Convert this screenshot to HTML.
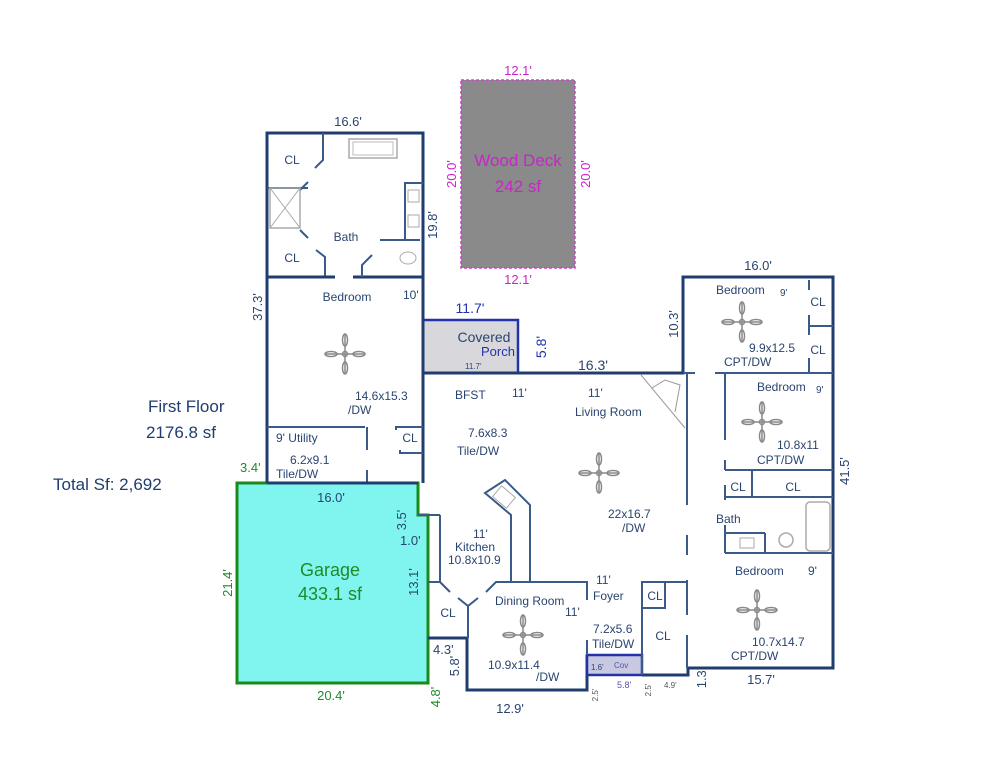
<!DOCTYPE html>
<html><head><style>
body{margin:0;background:#fff;}
svg{display:block;font-family:"Liberation Sans",sans-serif;}
.w{stroke:#1f3d6e;stroke-width:3;fill:none;}
.t{stroke:#3a5a8a;stroke-width:2;fill:none;}
.tx{fill:#2a4470;font-size:12px;}
.d{fill:#2a4470;font-size:13px;}
.g{fill:#1f8a2a;font-size:13px;}
.m{fill:#cc22cc;font-size:13px;}
.fan{stroke:#888;stroke-width:1.5;fill:none;}
</style></head><body>
<svg width="995" height="768" viewBox="0 0 995 768" xmlns="http://www.w3.org/2000/svg">
<defs>
<g id="fan"><line x1="-20" y1="0" x2="20" y2="0" class="fan"/><line x1="0" y1="-20" x2="0" y2="20" class="fan"/><circle r="2.5" class="fan"/><ellipse cx="-14" cy="0" rx="6" ry="2.5" class="fan"/><ellipse cx="14" cy="0" rx="6" ry="2.5" class="fan"/><ellipse cx="0" cy="-14" rx="2.5" ry="6" class="fan"/><ellipse cx="0" cy="14" rx="2.5" ry="6" class="fan"/></g>
</defs>
<!-- Wood deck -->
<rect x="461" y="80" width="114" height="188" fill="#8a8a8a" stroke="#d040d0" stroke-width="1.5" stroke-dasharray="3,2"/>
<text x="518" y="166" class="m" style="font-size:17px" text-anchor="middle">Wood Deck</text>
<text x="518" y="192" class="m" style="font-size:17px" text-anchor="middle">242 sf</text>
<text x="518" y="75" class="m" text-anchor="middle">12.1'</text>
<text x="518" y="284" class="m" text-anchor="middle">12.1'</text>
<text transform="translate(456,174) rotate(-90)" class="m" text-anchor="middle">20.0'</text>
<text transform="translate(590,174) rotate(-90)" class="m" text-anchor="middle">20.0'</text>

<!-- Garage -->
<polygon points="237,483 418,483 418,515 428,515 428,683 237,683" fill="#80f5ef" stroke="#1a8a1a" stroke-width="3"/>
<text x="330" y="576" style="fill:#1f8a2a;font-size:18px" text-anchor="middle">Garage</text>
<text x="330" y="600" style="fill:#1f8a2a;font-size:18px" text-anchor="middle">433.1 sf</text>
<text x="331" y="502" class="d" text-anchor="middle">16.0'</text>
<text x="331" y="700" class="g" text-anchor="middle">20.4'</text>
<text transform="translate(232,583) rotate(-90)" class="g" text-anchor="middle">21.4'</text>
<text transform="translate(406,520) rotate(-90)" class="d" text-anchor="middle">3.5'</text>
<text x="400" y="545" class="d">1.0'</text>
<text transform="translate(418,582) rotate(-90)" class="d" text-anchor="middle">13.1'</text>
<text transform="translate(440,697) rotate(-90)" class="g" text-anchor="middle">4.8'</text>
<text x="240" y="472" class="g">3.4'</text>

<!-- Covered porch -->
<rect x="423" y="320" width="95" height="53" fill="#d8d8dc" stroke="#2233aa" stroke-width="2.5"/>
<text x="484" y="342" class="tx" style="font-size:14px" text-anchor="middle">Covered</text>
<text x="498" y="356" style="fill:#2233aa;font-size:13px" text-anchor="middle">Porch</text>
<text x="465" y="369" class="tx" style="font-size:8px">11.7'</text>
<text x="470" y="313" style="fill:#2233aa;font-size:14px" text-anchor="middle">11.7'</text>
<text transform="translate(546,347) rotate(-90)" style="fill:#2233aa;font-size:14px" text-anchor="middle">5.8'</text>

<!-- Main outline -->
<polyline class="w" points="267,483 267,133 423,133 423,373 683,373 683,277 833,277 833,668 688,668 688,675 642,675"/>
<line class="w" x1="423" y1="373" x2="423" y2="483"/>
<line class="w" x1="428" y1="638" x2="467" y2="638"/>
<polyline class="w" points="467,638 467,690 587,690 587,655"/>
<rect x="587" y="655" width="55" height="20" fill="#c8c8e0" stroke="#2233aa" stroke-width="2.5"/>
<text x="591" y="670" class="tx" style="font-size:8px">1.6'</text>
<text x="614" y="668" style="fill:#5555aa;font-size:8px">Cov</text>

<!-- master bath interior -->
<polyline class="t" points="267,188 308,188"/>
<polyline class="t" points="323,133 323,160 315,168"/>
<line class="t" x1="300" y1="190" x2="308" y2="182"/>
<rect x="270" y="188" width="30" height="40" fill="none" stroke="#aaa" stroke-width="1.5"/>
<line x1="270" y1="188" x2="300" y2="228" stroke="#aaa"/><line x1="300" y1="188" x2="270" y2="228" stroke="#aaa"/>
<rect x="349" y="139" width="48" height="19" fill="none" stroke="#aaa" stroke-width="1.5"/>
<rect x="353" y="142" width="40" height="13" fill="none" stroke="#bbb"/>
<line class="t" x1="300" y1="230" x2="308" y2="238"/>
<polyline class="t" points="316,250 325,257 325,277"/>
<line class="w" x1="267" y1="277" x2="335" y2="277"/>
<line class="w" x1="353" y1="277" x2="423" y2="277"/>
<polyline class="t" points="362,277 362,265 372,255"/>
<polyline class="t" points="380,240 420,240"/>
<polyline class="t" points="405,240 405,183 423,183"/>
<rect x="408" y="190" width="11" height="12" fill="none" stroke="#aaa"/>
<rect x="408" y="215" width="11" height="12" fill="none" stroke="#aaa"/>
<ellipse cx="408" cy="258" rx="8" ry="6" fill="none" stroke="#aaa"/>
<text x="292" y="164" class="tx" text-anchor="middle">CL</text>
<text x="292" y="262" class="tx" text-anchor="middle">CL</text>
<text x="346" y="241" class="tx" text-anchor="middle">Bath</text>
<text x="347" y="301" class="tx" text-anchor="middle">Bedroom</text>
<text x="403" y="299" class="tx">10'</text>
<use href="#fan" x="345" y="354"/>
<text x="355" y="400" class="tx">14.6x15.3</text>
<text x="348" y="414" class="tx">/DW</text>
<text x="348" y="126" class="d" text-anchor="middle">16.6'</text>
<text transform="translate(437,225) rotate(-90)" class="d" text-anchor="middle">19.8'</text>
<text transform="translate(262,307) rotate(-90)" class="d" text-anchor="middle">37.3'</text>

<!-- utility -->
<line class="t" x1="267" y1="427" x2="365" y2="427"/>
<line class="t" x1="367" y1="427" x2="367" y2="450"/>
<line class="t" x1="367" y1="470" x2="367" y2="483"/>
<polyline class="t" points="396,430 396,427 423,427"/>
<polyline class="t" points="400,450 400,453 423,453"/>
<text x="410" y="442" class="tx" text-anchor="middle">CL</text>
<text x="276" y="442" class="tx">9'  Utility</text>
<text x="290" y="464" class="tx">6.2x9.1</text>
<text x="276" y="478" class="tx">Tile/DW</text>
<line class="w" x1="267" y1="483" x2="418" y2="483"/>
<line class="t" x1="418" y1="515" x2="440" y2="515"/>
<line class="t" x1="440" y1="515" x2="440" y2="582"/>
<line class="t" x1="428" y1="582" x2="440" y2="582"/>
<line class="t" x1="440" y1="582" x2="450" y2="592"/>
<polyline class="t" points="458,598 468,606 468,638"/>
<polyline class="t" points="468,606 478,598"/>
<polyline class="t" points="486,592 496,582 587,582 587,600"/>
<line class="t" x1="587" y1="640" x2="587" y2="655"/>
<text x="448" y="617" class="tx" text-anchor="middle">CL</text>

<!-- kitchen island -->
<polygon class="t" points="485,493 505,480 530,505 530,582 511,582 511,515"/>
<rect x="495" y="490" width="18" height="14" fill="none" stroke="#aaa" transform="rotate(40 504 497)"/>

<!-- texts main -->
<text x="455" y="399" class="tx">BFST</text>
<text x="512" y="397" class="tx">11'</text>
<text x="588" y="397" class="tx">11'</text>
<text x="575" y="416" class="tx">Living Room</text>
<text x="468" y="437" class="tx">7.6x8.3</text>
<text x="457" y="455" class="tx">Tile/DW</text>
<use href="#fan" x="599" y="473"/>
<text x="608" y="518" class="tx">22x16.7</text>
<text x="622" y="532" class="tx">/DW</text>
<text x="473" y="538" class="tx">11'</text>
<text x="455" y="551" class="tx">Kitchen</text>
<text x="448" y="564" class="tx">10.8x10.9</text>
<text x="495" y="605" class="tx">Dining Room</text>
<text x="565" y="616" class="tx">11'</text>
<use href="#fan" x="523" y="635"/>
<text x="488" y="669" class="tx">10.9x11.4</text>
<text x="536" y="681" class="tx">/DW</text>
<text x="596" y="584" class="tx">11'</text>
<text x="593" y="600" class="tx">Foyer</text>
<text x="593" y="633" class="tx">7.2x5.6</text>
<text x="592" y="648" class="tx">Tile/DW</text>
<text x="617" y="688" style="fill:#5555aa;font-size:9px">5.8'</text>
<text x="510" y="713" class="d" text-anchor="middle">12.9'</text>
<text x="433" y="654" class="d">4.3'</text>
<text transform="translate(459,666) rotate(-90)" class="d" text-anchor="middle">5.8'</text>
<text transform="translate(598,695) rotate(-90)" style="fill:#555;font-size:8px" text-anchor="middle">2.5'</text>
<text transform="translate(651,690) rotate(-90)" style="fill:#555;font-size:8px" text-anchor="middle">2.5'</text>
<text x="664" y="688" style="fill:#555;font-size:8px">4.9'</text>
<text transform="translate(706,678) rotate(-90)" class="d" text-anchor="middle">1.3'</text>
<text x="761" y="684" class="d" text-anchor="middle">15.7'</text>

<!-- fireplace -->
<polyline points="641,375 685,428" stroke="#999" fill="none"/>
<polyline points="652,388 665,380 680,385 675,412" stroke="#999" fill="none"/>

<!-- living right wall & closets -->
<line class="t" x1="687" y1="373" x2="687" y2="505"/>
<line class="t" x1="687" y1="535" x2="687" y2="555"/>
<line class="t" x1="687" y1="580" x2="687" y2="615"/>
<line class="t" x1="687" y1="635" x2="687" y2="668"/>
<polyline class="t" points="642,675 642,582 687,582"/>
<polyline class="t" points="642,608 665,608 665,582"/>
<text x="655" y="600" class="tx" text-anchor="middle">CL</text>
<text x="663" y="640" class="tx" text-anchor="middle">CL</text>

<!-- right wing -->
<line class="t" x1="683" y1="373" x2="695" y2="373"/>
<line class="t" x1="715" y1="373" x2="833" y2="373"/>
<line class="t" x1="725" y1="373" x2="725" y2="440"/>
<line class="t" x1="725" y1="460" x2="725" y2="470"/>
<line class="t" x1="725" y1="470" x2="833" y2="470"/>
<line class="t" x1="752" y1="470" x2="752" y2="497"/>
<line class="t" x1="725" y1="497" x2="833" y2="497"/>
<line class="t" x1="725" y1="485" x2="725" y2="500"/>
<line class="t" x1="725" y1="525" x2="725" y2="553"/>
<line class="t" x1="725" y1="553" x2="833" y2="553"/>
<line class="t" x1="725" y1="533" x2="765" y2="533"/>
<line class="t" x1="765" y1="533" x2="765" y2="553"/>
<rect x="806" y="502" width="24" height="49" rx="4" fill="none" stroke="#aaa" stroke-width="1.5"/>
<circle cx="786" cy="540" r="7" fill="none" stroke="#aaa" stroke-width="1.5"/>
<rect x="740" y="538" width="14" height="10" fill="none" stroke="#aaa"/>
<line class="t" x1="809" y1="280" x2="809" y2="290"/>
<line class="t" x1="809" y1="315" x2="809" y2="335"/>
<line class="t" x1="809" y1="326" x2="833" y2="326"/>
<line class="t" x1="809" y1="358" x2="809" y2="373"/>
<text x="818" y="306" class="tx" text-anchor="middle">CL</text>
<text x="818" y="354" class="tx" text-anchor="middle">CL</text>
<text x="716" y="294" class="tx">Bedroom</text>
<text x="780" y="296" class="tx" style="font-size:10px">9'</text>
<use href="#fan" x="742" y="322"/>
<text x="749" y="352" class="tx">9.9x12.5</text>
<text x="724" y="366" class="tx">CPT/DW</text>
<text x="757" y="391" class="tx">Bedroom</text>
<text x="816" y="393" class="tx" style="font-size:10px">9'</text>
<use href="#fan" x="762" y="422"/>
<text x="777" y="449" class="tx">10.8x11</text>
<text x="757" y="464" class="tx">CPT/DW</text>
<text x="738" y="491" class="tx" text-anchor="middle">CL</text>
<text x="793" y="491" class="tx" text-anchor="middle">CL</text>
<text x="716" y="523" class="tx">Bath</text>
<text x="735" y="575" class="tx">Bedroom</text>
<text x="808" y="575" class="tx">9'</text>
<use href="#fan" x="757" y="610"/>
<text x="752" y="646" class="tx">10.7x14.7</text>
<text x="731" y="660" class="tx">CPT/DW</text>
<text x="758" y="270" class="d" text-anchor="middle">16.0'</text>
<text transform="translate(678,324) rotate(-90)" class="d" text-anchor="middle">10.3'</text>
<text transform="translate(849,471) rotate(-90)" class="d" text-anchor="middle">41.5'</text>
<text x="578" y="370" class="d" style="font-size:14px">16.3'</text>

<!-- left labels -->
<text x="148" y="412" style="fill:#1f3d6e;font-size:17px">First Floor</text>
<text x="146" y="438" style="fill:#1f3d6e;font-size:17px">2176.8 sf</text>
<text x="53" y="490" style="fill:#1f3d6e;font-size:17px">Total Sf: 2,692</text>
</svg>
</body></html>
